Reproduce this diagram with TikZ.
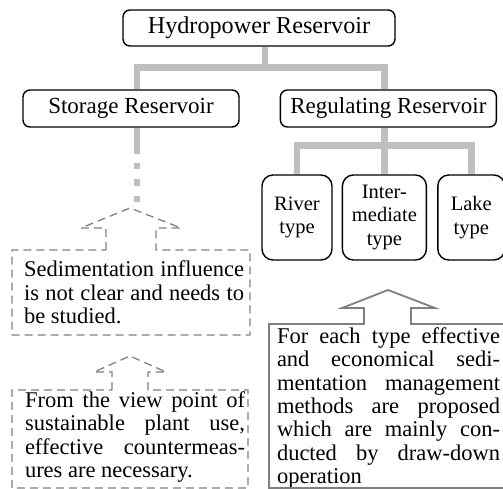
\documentclass[tikz,border=0pt]{standalone}
\usepackage{fontspec}
\setmainfont{Liberation Serif}
\usetikzlibrary{positioning, calc}

\tikzset{
  every node/.style={font=\fontsize{22.5}{23.4}\selectfont},
  box/.style={
    draw=black, rounded corners=7pt, line width=1.4pt, fill=white,
    inner sep=0pt, align=center, font=\fontsize{23}{24}\selectfont
  },
  typebox/.style={box, rounded corners=11pt, minimum height=85pt,
    font=\fontsize{20.5}{23.5}\selectfont},
  tree/.style={line width=6.5pt, draw=black!25},
  note/.style={text width=220pt, align=justify, inner sep=0pt},
  dashbox/.style={draw=black!50, line width=1.3pt, dash pattern=on 8pt off 5pt},
  solidbox/.style={draw=black!50, line width=1.8pt},
}

\begin{document}
\begin{tikzpicture}[x=1pt, y=-1pt]
  \useasboundingbox (0,0) rectangle (503,489);

  % Reservoir boxes
  \node[box, minimum width=272pt, minimum height=36pt, font=\fontsize{24.2}{25}\selectfont] (hydro) at (259,28) {Hydropower Reservoir};
  \node[box, minimum width=216pt, minimum height=37pt] (storage) at (131,108.5) {Storage Reservoir};
  \node[box, minimum width=216pt, minimum height=37pt, right=40pt of storage] (regul) {Regulating Reservoir};

  % Types
  \node[typebox, minimum width=70pt] (river) at (297,217.5) {River\\type};
  \node[typebox, minimum width=84pt, right=9pt of river] (inter) {Inter-\\mediate\\type};
  \node[typebox, minimum width=67pt, right=10pt of inter] (lake) {Lake\\type};

  % Tree lines
  \coordinate (bar1) at ($(hydro.south)+(6,21)$);
  \draw[tree] ([xshift=6pt]hydro.south) -- (bar1);
  \draw[tree] ([xshift=6pt]storage.north) |- (bar1) -| (inter.north |- regul.north);
  \draw[tree] (inter.north |- regul.south) -- (inter.north);
  \coordinate (bar2) at ($(inter.north |- regul.south)+(0,18)$);
  \draw[tree] (river.north) |- (bar2) -| (lake.north);

  % Storage stem, fading out
  \draw[tree] ([xshift=6pt]storage.south) -- ++(0,26) coordinate (stem);
  \draw[tree, dash pattern=on 6.5pt off 10pt] ($(stem)+(0,9)$) -- ++(0,39);

  % Notes
  \node[note] (note1) at (134,292.5)
    {Sedimentation influence\linebreak is not clear and needs to\linebreak be studied.};
  \node[note] (note2) at (135,437)
    {From the view point of\linebreak sustainable plant use,\linebreak effective countermeas-\linebreak ures are necessary.};
  \node[note, text width=223pt] (note3) at (388.5,408)
    {For each type effective\linebreak and economical sedi-\linebreak mentation management\linebreak methods are proposed\linebreak which are mainly con-\linebreak ducted by draw-down\linebreak operation};

  % Arrow outlines round the notes
  \draw[dashbox] (106,250) -- (106,228) -- (81,228) -- (130,208) -- (181,228) -- (156,228)
    -- (156,250) -- (250,250) -- (250,335) -- (12,335) -- (12,250) -- cycle;
  \draw[dashbox] (112,390) -- (112,372) -- (94,372) -- (130,356) -- (166,372) -- (148,372)
    -- (148,390) -- (248,390) -- (248,488) -- (12,488) -- (12,390) -- cycle;
  \draw[solidbox] (510,324) -- (411,324) -- (411,308) -- (435,308) -- (388,290) -- (342,308)
    -- (364,308) -- (364,324) -- (269,324) -- (269,488) -- (510,488);
\end{tikzpicture}
\end{document}
